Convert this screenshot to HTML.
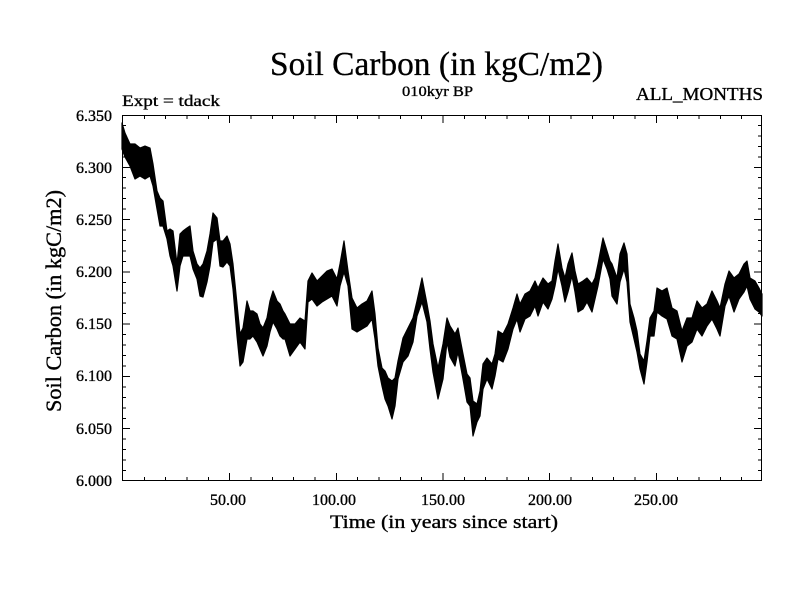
<!DOCTYPE html>
<html><head><meta charset="utf-8"><style>
html,body{margin:0;padding:0;background:#fff;}
svg{display:block;}
text{font-family:"Liberation Serif","Times New Roman",serif;fill:#000;stroke:#000;stroke-width:0.35;}
</style></head><body>
<svg width="800" height="600" viewBox="0 0 800 600" xmlns="http://www.w3.org/2000/svg">
<rect x="0" y="0" width="800" height="600" fill="#fff"/>
<text x="436.5" y="75" font-size="34" text-anchor="middle" textLength="333" lengthAdjust="spacingAndGlyphs" style="stroke-width:0.3">Soil Carbon (in kgC/m2)</text>
<text x="437.5" y="96" font-size="15" text-anchor="middle" textLength="71" lengthAdjust="spacingAndGlyphs">010kyr BP</text>
<text x="122" y="106" font-size="16" textLength="98" lengthAdjust="spacingAndGlyphs">Expt = tdack</text>
<text x="636" y="100" font-size="18" textLength="127" lengthAdjust="spacingAndGlyphs">ALL_MONTHS</text>
<text transform="translate(61,301) rotate(-90)" font-size="22" text-anchor="middle" textLength="222" lengthAdjust="spacingAndGlyphs">Soil Carbon (in kgC/m2)</text>
<text x="444" y="528" font-size="19" text-anchor="middle" textLength="228" lengthAdjust="spacingAndGlyphs">Time (in years since start)</text>

<g font-size="16" text-anchor="end">
<text x="112" y="121">6.350</text>
<text x="112" y="173">6.300</text>
<text x="112" y="225">6.250</text>
<text x="112" y="277">6.200</text>
<text x="112" y="329">6.150</text>
<text x="112" y="381">6.100</text>
<text x="112" y="434">6.050</text>
<text x="112" y="486">6.000</text>
</g>
<g font-size="16" text-anchor="middle">
<text x="228" y="505">50.00</text>
<text x="334" y="505">100.00</text>
<text x="443" y="505">150.00</text>
<text x="550" y="505">200.00</text>
<text x="656" y="505">250.00</text>
</g>

<polygon fill="#000" stroke="#000" stroke-width="1.2" stroke-linejoin="round" points="
122,123 125,133 130,144 135,144 140,148 145,146 150,148 153,164 157,191 160,198 163,201 167,231 170,229 173,231 177,264 180,234 183,231 187,228 190,226 193,251 197,264 200,268 203,264 207,251 210,234 213,213 217,218 220,241 223,241 227,236 230,244 233,264 237,304 240,334 243,328 247,301 250,311 253,311 257,314 260,324 263,328 267,318 270,301 273,291 277,301 280,304 283,311 285,314 290,324 295,324 300,318 305,321 308,281 312,273 317,281 322,276 327,271 332,269 337,279 340,264 344,241 348,271 352,298 357,308 362,304 367,301 372,291 375,314 378,348 382,368 385,371 388,378 392,381 395,378 398,361 403,338 408,328 413,318 417,301 422,278 427,304 430,321 433,344 438,368 443,344 447,318 450,326 455,334 458,328 463,354 467,374 470,378 473,401 477,404 480,391 483,364 487,358 492,364 495,354 498,331 503,334 508,324 513,308 517,294 520,304 525,294 530,291 535,281 538,288 543,278 548,284 552,281 555,261 558,244 562,268 565,278 568,264 572,253 575,271 578,284 583,281 587,278 592,284 595,278 598,264 603,238 607,251 610,261 612,264 617,278 620,254 624,243 627,254 630,304 634,318 637,331 640,354 644,361 647,341 650,318 654,311 657,288 662,291 667,288 672,308 677,311 682,331 687,318 692,318 697,301 702,308 707,304 712,291 717,301 720,308 725,284 729,271 734,278 739,274 744,264 747,261 750,278 755,281 759,288 762,294
762,316 759,312 755,309 750,299 747,286 744,292 739,299 734,312 729,296 725,306 720,336 717,329 712,319 707,326 702,336 697,329 692,342 687,346 682,362 677,339 672,336 667,319 662,316 657,312 654,336 650,336 647,362 644,384 640,369 637,352 634,339 630,322 627,282 624,269 620,282 617,304 612,296 610,279 607,269 603,259 598,286 595,299 592,312 587,302 583,309 578,312 575,292 572,276 568,292 565,302 562,286 558,269 555,286 552,299 548,309 543,302 538,316 535,306 530,316 525,319 520,332 517,319 513,329 508,349 503,362 498,359 495,376 492,389 487,379 483,389 480,416 477,422 473,436 470,406 467,402 463,379 458,352 455,366 450,357 447,342 443,379 438,399 433,372 430,349 427,322 422,302 417,316 413,342 408,356 403,362 398,379 395,406 392,419 388,406 385,399 382,386 378,366 375,339 372,319 367,326 362,329 357,332 352,329 348,286 344,272 340,286 337,306 332,296 327,299 322,302 317,306 312,299 308,302 305,349 300,342 295,349 290,356 285,339 283,339 280,336 277,329 273,322 270,332 267,346 263,356 260,349 257,342 253,336 250,339 247,339 243,362 240,366 237,336 233,289 230,266 227,262 223,267 220,266 217,239 213,242 210,266 207,282 203,297 200,296 197,279 193,269 190,256 187,256 183,256 180,266 177,291 173,266 170,256 167,239 163,226 160,226 157,209 153,186 150,176 145,179 140,176 135,179 130,166 125,157 122,149"/>

<g stroke="#000" stroke-width="1" fill="none" shape-rendering="crispEdges">
<rect x="122.5" y="115.5" width="639" height="365"/>
<path d="M122,167.3h8M122,219.6h8M122,271.9h8M122,324.1h8M122,376.4h8M122,428.7h8
M762,167.3h-8M762,219.6h-8M762,271.9h-8M762,324.1h-8M762,376.4h-8M762,428.7h-8
M122,125.5h4M122,135.9h4M122,146.4h4M122,156.8h4M122,177.7h4M122,188.2h4M122,198.7h4M122,209.1h4M122,230h4M122,240.5h4M122,250.9h4M122,261.4h4M122,282.3h4M122,292.8h4M122,303.2h4M122,313.7h4M122,334.6h4M122,345.1h4M122,355.5h4M122,366h4M122,386.9h4M122,397.3h4M122,407.8h4M122,418.3h4M122,439.2h4M122,449.6h4M122,460.1h4M122,470.5h4
M762,125.5h-4M762,135.9h-4M762,146.4h-4M762,156.8h-4M762,177.7h-4M762,188.2h-4M762,198.7h-4M762,209.1h-4M762,230h-4M762,240.5h-4M762,250.9h-4M762,261.4h-4M762,282.3h-4M762,292.8h-4M762,303.2h-4M762,313.7h-4M762,334.6h-4M762,345.1h-4M762,355.5h-4M762,366h-4M762,386.9h-4M762,397.3h-4M762,407.8h-4M762,418.3h-4M762,439.2h-4M762,449.6h-4M762,460.1h-4M762,470.5h-4
M229.7,481v-8M336.4,481v-8M443.1,481v-8M549.7,481v-8M656.4,481v-8
M229.7,115v8M336.4,115v8M443.1,115v8M549.7,115v8M656.4,115v8
M144.4,481v-4M165.7,481v-4M187.1,481v-4M208.4,481v-4M251.1,481v-4M272.4,481v-4M293.7,481v-4M315.1,481v-4M357.7,481v-4M379.1,481v-4M400.4,481v-4M421.7,481v-4M464.4,481v-4M485.7,481v-4M507.1,481v-4M528.4,481v-4M571.1,481v-4M592.4,481v-4M613.7,481v-4M635.1,481v-4M677.7,481v-4M699.1,481v-4M720.4,481v-4M741.7,481v-4
M144.4,115v4M165.7,115v4M187.1,115v4M208.4,115v4M251.1,115v4M272.4,115v4M293.7,115v4M315.1,115v4M357.7,115v4M379.1,115v4M400.4,115v4M421.7,115v4M464.4,115v4M485.7,115v4M507.1,115v4M528.4,115v4M571.1,115v4M592.4,115v4M613.7,115v4M635.1,115v4M677.7,115v4M699.1,115v4M720.4,115v4M741.7,115v4"/>
</g>
</svg>
</body></html>
